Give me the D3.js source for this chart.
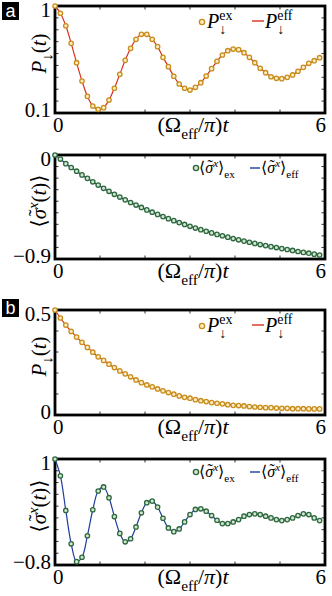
<!DOCTYPE html>
<html>
<head>
<meta charset="utf-8">
<script src="https://cdn.jsdelivr.net/npm/d3@7.9.0/dist/d3.min.js"></script>
<style>
  html, body { margin: 0; padding: 0; background: #fff; }
  svg text { font-family: "Liberation Serif", "DejaVu Serif", serif; fill: #000; }
</style>
</head>
<body>
<svg id="fig" width="332" height="596"></svg>
<script>
// sample times, (Omega_eff/pi) t
const times = [0, 0.12, 0.24, 0.36, 0.48, 0.6, 0.72, 0.84, 0.96, 1.08,
  1.2, 1.32, 1.44, 1.56, 1.68, 1.8, 1.92, 2.04, 2.16, 2.28,
  2.4, 2.52, 2.64, 2.76, 2.88, 3.0, 3.12, 3.24, 3.36, 3.48,
  3.6, 3.72, 3.84, 3.96, 4.08, 4.2, 4.32, 4.44, 4.56, 4.68,
  4.8, 4.92, 5.04, 5.16, 5.28, 5.4, 5.52, 5.64, 5.76, 5.88];

// panel a, population P_down
const aPop = [1.0, 0.939, 0.834, 0.686, 0.523, 0.369, 0.240, 0.159, 0.131, 0.145,
  0.209, 0.308, 0.425, 0.543, 0.644, 0.720, 0.762, 0.762, 0.720, 0.658,
  0.568, 0.490, 0.409, 0.344, 0.308, 0.293, 0.316, 0.355, 0.411, 0.473,
  0.535, 0.588, 0.624, 0.638, 0.633, 0.607, 0.568, 0.523, 0.476, 0.439,
  0.405, 0.392, 0.389, 0.400, 0.420, 0.451, 0.484, 0.518, 0.540, 0.565];

// panel a, <sigma_x>
const aSigma = [0, -0.035, -0.075, -0.108, -0.140, -0.172, -0.202, -0.232, -0.260, -0.288,
  -0.314, -0.340, -0.364, -0.388, -0.411, -0.433, -0.454, -0.475, -0.495, -0.514,
  -0.533, -0.551, -0.568, -0.585, -0.601, -0.617, -0.632, -0.646, -0.660, -0.674,
  -0.687, -0.699, -0.711, -0.723, -0.734, -0.745, -0.755, -0.765, -0.775, -0.784,
  -0.793, -0.801, -0.810, -0.818, -0.826, -0.835, -0.843, -0.850, -0.858, -0.866];

// panel b, population P_down
const bPop = [0.5, 0.462, 0.428, 0.398, 0.371, 0.346, 0.322, 0.299, 0.277, 0.260,
  0.242, 0.226, 0.210, 0.196, 0.182, 0.167, 0.154, 0.143, 0.134, 0.124,
  0.115, 0.107, 0.099, 0.091, 0.084, 0.080, 0.073, 0.068, 0.064, 0.059,
  0.056, 0.053, 0.049, 0.046, 0.045, 0.043, 0.040, 0.038, 0.037, 0.035,
  0.035, 0.033, 0.032, 0.032, 0.030, 0.030, 0.030, 0.029, 0.029, 0.029];

// panel b, <sigma_x>
const bSigma = [1.0, 0.714, 0.126, -0.44, -0.743, -0.668, -0.303, 0.138, 0.457, 0.525,
  0.343, 0.023, -0.263, -0.406, -0.354, -0.154, 0.086, 0.258, 0.285, 0.182,
  -0.006, -0.171, -0.234, -0.188, -0.068, 0.057, 0.143, 0.154, 0.114, 0.040,
  -0.040, -0.097, -0.097, -0.069, -0.029, 0.029, 0.057, 0.069, 0.057, 0.029,
  0.0, -0.029, -0.046, -0.029, 0.0, 0.040, 0.069, 0.057, 0.0, -0.046];

const xTicks = [0, 1, 2, 3, 4, 5, 6];
const xTickLabels = [[0, '0', 'start'], [6, '6', 'end']];
const aPopTicks = [0.1, 0.2, 0.3, 0.4, 0.5, 0.6, 0.7, 0.8, 0.9, 1];
const aPopLabels = [[1, '1'], [0.1, '0.1']];
const aSigmaTicks = [0, -0.1, -0.2, -0.3, -0.4, -0.5, -0.6, -0.7, -0.8, -0.9];
const aSigmaLabels = [[0, '0'], [-0.9, '\u22120.9']];
const bPopTicks = [0, 0.1, 0.2, 0.3, 0.4, 0.5];
const bPopLabels = [[0.5, '0.5'], [0, '0']];
const bSigmaTicks = [-0.8, -0.6, -0.4, -0.2, 0, 0.2, 0.4, 0.6, 0.8, 1];
const bSigmaLabels = [[1, '1'], [-0.8, '\u22120.8']];

const popColors = { stroke: '#c88d1d', fill: '#fbeec4', line: '#d8321c' };
const sigColors = { stroke: '#2e6840', fill: '#d3e7cc', line: '#1d3b98' };

const svg = d3.select('#fig');
const left = 55, right = 325;
const x = d3.scaleLinear().domain([0, 6]).range([left, right]);

// writes a piece of math with sub/superscripts as tspans
// part.over puts the glyph centred over the previous one (used for the tilde)
function mathText(parent, parts, size) {
  const text = parent.append('text').attr('font-size', size);
  let shift = 0;
  let prev = null;
  let carry = 0;
  parts.forEach(p => {
    const ts = text.append('tspan').text(p.s);
    const target = p.sub ? size * 0.3 : p.sup ? -size * 0.4 : p.over ? -size * 0.12 : 0;
    ts.attr('dy', target - shift);
    shift = target;
    if (p.sub || p.sup) ts.attr('font-size', size * 0.7);
    if (p.i) ts.attr('font-style', 'italic');
    let dx = carry;
    carry = 0;
    if (p.back && prev) dx -= prev.node().getComputedTextLength();
    if (p.over && prev) {
      const pl = prev.node().getComputedTextLength();
      const l = ts.node().getComputedTextLength();
      const skew = size * 0.06;
      dx += -(pl + l) / 2 + skew;
      carry = (pl - l) / 2 - skew;
    }
    if (dx) ts.attr('dx', dx);
    if (!p.over) prev = ts;
  });
  return text;
}

const tilde = { s: '\u02DC', over: 1 };
const xLabelParts = [{ s: '(\u03A9' }, { s: 'eff', sub: 1 }, { s: '/' }, { s: '\u03C0', i: 1 }, { s: ')' }, { s: 't', i: 1 }];
const popLabelParts = [{ s: 'P', i: 1 }, { s: '\u2193', sub: 1 }, { s: '(' }, { s: 't', i: 1 }, { s: ')' }];
const sigLabelParts = [{ s: '\u27E8' }, { s: '\u03C3', i: 1 }, tilde, { s: 'x', sup: 1, i: 1 }, { s: '(' }, { s: 't', i: 1 }, { s: ')\u27E9' }];

const panels = [
  { top: 6, bottom: 113, domain: [0.1, 1], ticks: aPopTicks, labels: aPopLabels, values: aPop, kind: 'pop' },
  { top: 155, bottom: 259, domain: [-0.9, 0], ticks: aSigmaTicks, labels: aSigmaLabels, values: aSigma, kind: 'sig' },
  { top: 310, bottom: 415, domain: [0, 0.5], ticks: bPopTicks, labels: bPopLabels, values: bPop, kind: 'pop' },
  { top: 459, bottom: 565, domain: [-0.8, 1], ticks: bSigmaTicks, labels: bSigmaLabels, values: bSigma, kind: 'sig' }
];

panels.forEach(p => {
  const y = d3.scaleLinear().domain(p.domain).range([p.bottom, p.top]);
  const col = p.kind === 'pop' ? popColors : sigColors;
  const g = svg.append('g');

  // frame
  g.append('rect')
    .attr('x', left).attr('y', p.top)
    .attr('width', right - left).attr('height', p.bottom - p.top)
    .attr('fill', 'none').attr('stroke', '#000').attr('stroke-width', 2.8);

  // inward ticks on all four sides
  const tk = g.append('g').attr('stroke', '#000').attr('stroke-width', 0.8);
  xTicks.slice(1, -1).forEach(t => {
    tk.append('line').attr('x1', x(t)).attr('x2', x(t)).attr('y1', p.bottom).attr('y2', p.bottom - 3.5);
    tk.append('line').attr('x1', x(t)).attr('x2', x(t)).attr('y1', p.top).attr('y2', p.top + 3.5);
  });
  p.ticks.forEach(v => {
    if (v === p.domain[0] || v === p.domain[1]) return;
    tk.append('line').attr('x1', left).attr('x2', left + 3.5).attr('y1', y(v)).attr('y2', y(v));
    tk.append('line').attr('x1', right).attr('x2', right - 3.5).attr('y1', y(v)).attr('y2', y(v));
  });

  // tick labels: the top one sits a bit low, the bottom one a bit high
  p.labels.forEach(([v, s]) => {
    const nudge = v === p.domain[1] ? 3.5 : -3;
    g.append('text').attr('x', 51).attr('y', y(v) + nudge).attr('dy', '0.34em')
      .attr('text-anchor', 'end').attr('font-size', 21).text(s);
  });
  xTickLabels.forEach(([v, s, anchor]) => {
    g.append('text').attr('x', anchor === 'start' ? x(v) - 2 : x(v) + 1).attr('y', p.bottom + 19)
      .attr('text-anchor', anchor).attr('font-size', 21).text(s);
  });
  const xl = mathText(g, xLabelParts, 22);
  xl.attr('x', 193).attr('y', p.bottom + 19).attr('text-anchor', 'middle');

  // y label
  const yl = mathText(g, p.kind === 'pop' ? popLabelParts : sigLabelParts, 21);
  yl.attr('text-anchor', 'middle')
    .attr('transform', `translate(46,${(p.top + p.bottom) / 2 - 6}) rotate(-90)`);

  // curve + markers
  const pts = times.map((t, i) => [t, p.values[i]]);
  g.append('path')
    .datum(pts)
    .attr('fill', 'none').attr('stroke', col.line).attr('stroke-width', 1.2)
    .attr('d', d3.line().x(d => x(d[0])).y(d => y(d[1])).curve(d3.curveCatmullRom));
  g.selectAll('circle.m').data(pts).join('circle')
    .attr('class', 'm')
    .attr('cx', d => x(d[0])).attr('cy', d => y(d[1])).attr('r', 2.2)
    .attr('fill', col.fill).attr('stroke', col.stroke).attr('stroke-width', 1.3);

  // legend
  const ly = p.top + 14;
  const lg = g.append('g');
  if (p.kind === 'pop') {
    lg.append('circle').attr('cx', 202).attr('cy', ly + 2).attr('r', 2.6)
      .attr('fill', col.fill).attr('stroke', col.stroke).attr('stroke-width', 1.4);
    mathText(lg, [{ s: 'P', i: 1 }, { s: 'ex', sup: 1 }, { s: '\u2193', sub: 1, back: 1 }], 20)
      .attr('x', 207).attr('y', ly + 8);
    lg.append('line').attr('x1', 252).attr('x2', 264).attr('y1', ly + 1).attr('y2', ly + 1)
      .attr('stroke', col.line).attr('stroke-width', 1.4);
    mathText(lg, [{ s: 'P', i: 1 }, { s: 'eff', sup: 1 }, { s: '\u2193', sub: 1, back: 1 }], 20)
      .attr('x', 265).attr('y', ly + 8);
  } else {
    lg.append('circle').attr('cx', 196).attr('cy', ly - 1).attr('r', 2.6)
      .attr('fill', col.fill).attr('stroke', col.stroke).attr('stroke-width', 1.4);
    mathText(lg, [{ s: '\u27E8' }, { s: '\u03C3', i: 1 }, tilde, { s: 'x', sup: 1, i: 1 }, { s: '\u27E9' }, { s: 'ex', sub: 1 }], 16)
      .attr('x', 199).attr('y', ly + 4);
    lg.append('line').attr('x1', 250).attr('x2', 260).attr('y1', ly - 1).attr('y2', ly - 1)
      .attr('stroke', col.line).attr('stroke-width', 1.4);
    mathText(lg, [{ s: '\u27E8' }, { s: '\u03C3', i: 1 }, tilde, { s: 'x', sup: 1, i: 1 }, { s: '\u27E9' }, { s: 'eff', sub: 1 }], 16)
      .attr('x', 261).attr('y', ly + 4);
  }
});

// panel letters
[['a', 2, 2], ['b', 2, 299]].forEach(([s, px, py]) => {
  svg.append('rect').attr('x', px).attr('y', py).attr('width', 17).attr('height', 18).attr('fill', '#000');
  svg.append('text').attr('x', px + 8.5).attr('y', py + 14.5).attr('text-anchor', 'middle')
    .style('font-family', '"Liberation Sans", Arial, sans-serif').style('fill', '#fff')
    .attr('font-size', 18).text(s);
});
</script>
</body>
</html>
